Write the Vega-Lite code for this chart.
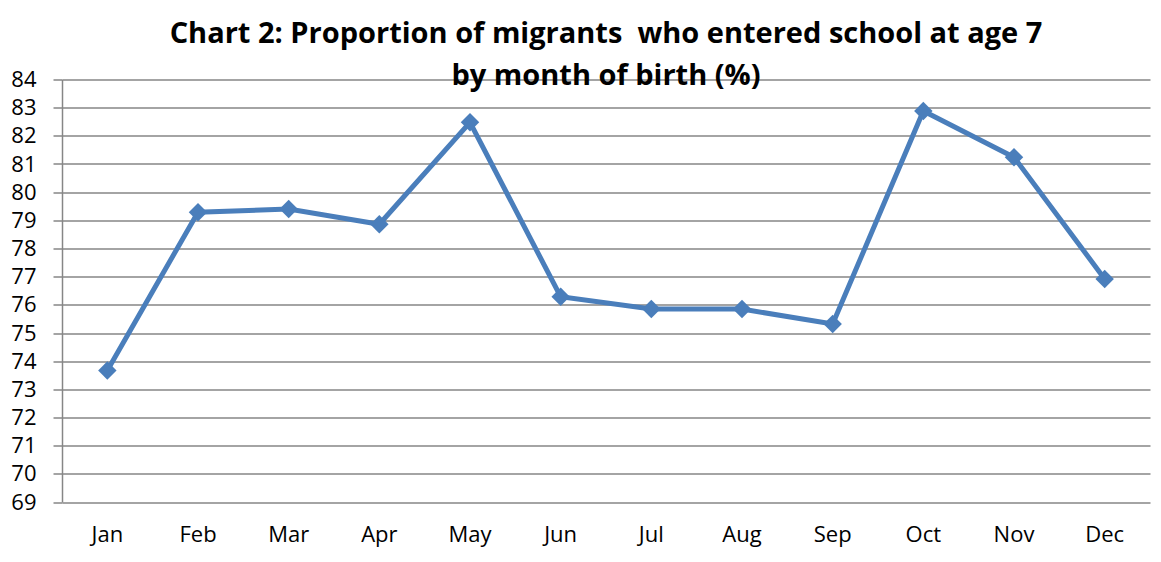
{
  "$schema": "https://vega.github.io/schema/vega-lite/v6.json",
  "autosize": "none",
  "width": 1088,
  "height": 422.5,
  "padding": {"left": 62, "top": 79.5, "right": 11, "bottom": 60},
  "background": "white",
  "title": {
    "text": ["Chart 2: Proportion of migrants \u00a0who entered school at age 7", "by month of birth (%)"],
    "font": "Open Sans",
    "fontSize": 29,
    "fontWeight": "bold",
    "color": "black",
    "anchor": "middle",
    "lineHeight": 42,
    "offset": -22
  },
  "data": {
    "values": [
      {"month": "Jan", "pct": 73.67},
      {"month": "Feb", "pct": 79.29},
      {"month": "Mar", "pct": 79.40},
      {"month": "Apr", "pct": 78.86},
      {"month": "May", "pct": 82.48},
      {"month": "Jun", "pct": 76.29},
      {"month": "Jul", "pct": 75.85},
      {"month": "Aug", "pct": 75.85},
      {"month": "Sep", "pct": 75.32},
      {"month": "Oct", "pct": 82.88},
      {"month": "Nov", "pct": 81.24},
      {"month": "Dec", "pct": 76.92}
    ]
  },
  "encoding": {
    "x": {
      "field": "month",
      "type": "ordinal",
      "sort": null,
      "scale": {"type": "band", "paddingInner": 0, "paddingOuter": 0},
      "axis": {
        "title": null,
        "labelAngle": 0,
        "ticks": false,
        "domain": false,
        "labelFont": "Open Sans",
        "labelFontSize": 22,
        "labelColor": "black",
        "labelPadding": 22,
        "grid": false
      }
    },
    "y": {
      "field": "pct",
      "type": "quantitative",
      "scale": {"domain": [69, 84], "nice": false, "zero": false},
      "axis": {
        "title": null,
        "values": [69,70,71,72,73,74,75,76,77,78,79,80,81,82,83,84],
        "grid": true,
        "gridColor": "#868686",
        "gridWidth": 1.5,
        "domainColor": "#868686",
        "domainWidth": 1.5,
        "tickColor": "#868686",
        "tickWidth": 1.5,
        "tickSize": 9,
        "labelFont": "Open Sans",
        "labelFontSize": 22,
        "labelColor": "black",
        "labelPadding": 17
      }
    }
  },
  "layer": [
    {
      "mark": {"type": "line", "color": "#4a7ebb", "strokeWidth": 5}
    },
    {
      "mark": {"type": "point", "shape": "diamond", "filled": true, "color": "#4a7ebb", "opacity": 1, "size": 340}
    }
  ],
  "config": {"view": {"stroke": null}}
}
